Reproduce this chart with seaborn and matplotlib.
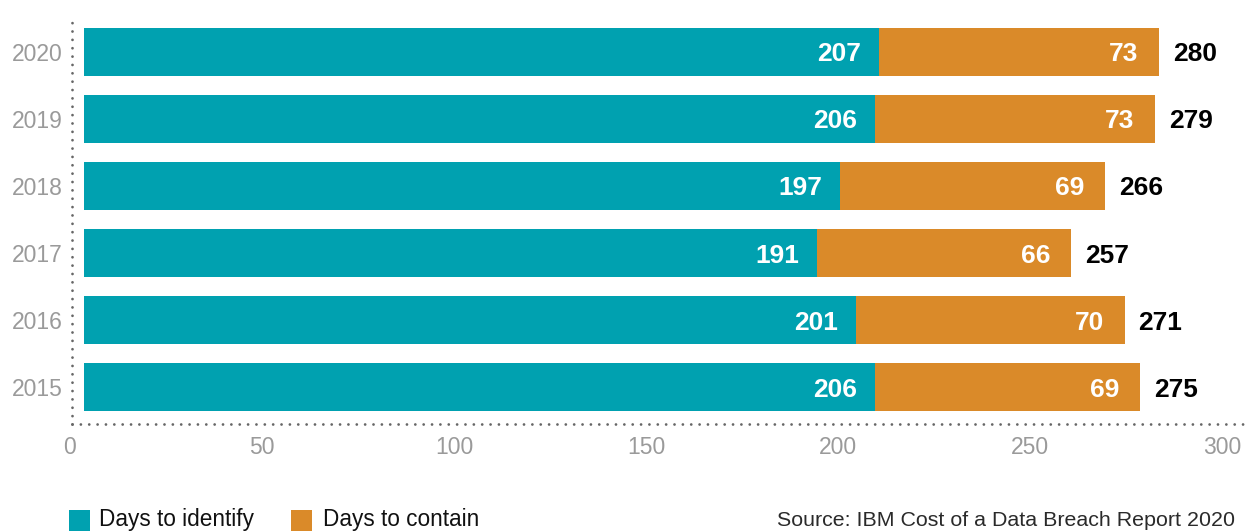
import matplotlib
matplotlib.use("Agg")
import matplotlib.pyplot as plt
import matplotlib.transforms as mtransforms
import seaborn as sns
import pandas as pd
from matplotlib.patches import Rectangle

years = ["2020", "2019", "2018", "2017", "2016", "2015"]
identify = [207, 206, 197, 191, 201, 206]
contain = [73, 73, 69, 66, 70, 69]
totals = [280, 279, 266, 257, 271, 275]
xticks = [0, 50, 100, 150, 200, 250, 300]
legend_labels = ["Days to identify", "Days to contain"]
source_text = "Source: IBM Cost of a Data Breach Report 2020"

TEAL = "#00A1B0"
ORANGE = "#DA8A29"

sns.set_theme(style="white")
plt.rcParams["font.family"] = ["Liberation Sans", "DejaVu Sans"]

W, H = 1248, 531
fig = plt.figure(figsize=(W / 100, H / 100), dpi=100)
ax = fig.add_axes([72 / W, 1 - 424 / H, (W - 72) / W, (424 - 15) / H])

df = pd.DataFrame({"year": years, "identify": identify, "contain": contain,
                   "total": totals})

sns.barplot(data=df, y="year", x="total", color=ORANGE, orient="h",
            width=0.716, order=years, ax=ax, saturation=1)
sns.barplot(data=df, y="year", x="identify", color=TEAL, orient="h",
            width=0.716, order=years, ax=ax, saturation=1)
for p in ax.patches:
    p.set_linewidth(0)

ax.set_xlim(-12 / 3.84, (W - 72 - 12) / 3.84)
ax.set_ylim(5.552, -0.552)
ax.set_xticks(xticks)
ax.set_xticklabels([str(t) for t in xticks])
ax.set_xlabel("")
ax.set_ylabel("")

ax.tick_params(axis="x", length=0, pad=9, labelsize=16.5, labelcolor="#9a9a9a")
ax.tick_params(axis="y", length=0, pad=7, labelsize=16.5, labelcolor="#9a9a9a")

# shift x tick labels slightly left, as in the reference
shift = mtransforms.ScaledTranslation(-14 / 100, 0, fig.dpi_scale_trans)
for lab in ax.get_xticklabels():
    lab.set_transform(lab.get_transform() + shift)

for s in ["top", "right"]:
    ax.spines[s].set_visible(False)
for s in ["left", "bottom"]:
    sp = ax.spines[s]
    sp.set_visible(True)
    sp.set_color("#666666")
    sp.set_linewidth(2.0)
    sp.set_capstyle("round")
    sp.set_linestyle((0, (0.01, 3.0)))

for i, (a, b, t) in enumerate(zip(identify, contain, totals)):
    ax.annotate(str(a), xy=(a, i), xytext=(-13, 0), textcoords="offset points",
                ha="right", va="center_baseline", color="white",
                fontsize=19, fontweight="bold")
    ax.annotate(str(b), xy=(a + b, i), xytext=(-15, 0), textcoords="offset points",
                ha="right", va="center_baseline", color="white",
                fontsize=19, fontweight="bold")
    ax.annotate(str(t), xy=(t, i), xytext=(10, 0), textcoords="offset points",
                ha="left", va="center_baseline", color="black",
                fontsize=19, fontweight="bold")

# legend
for xpx, col, lab, txx in [(69, TEAL, legend_labels[0], 99), (291, ORANGE, legend_labels[1], 323)]:
    fig.patches.append(Rectangle((xpx / W, 0), 21 / W, (531 - 510) / H,
                                 transform=fig.transFigure, color=col, lw=0))
    fig.text(txx / W, 5 / H, lab, ha="left", va="baseline", fontsize=16.3,
             color="#111111")

fig.text(1235 / W, 5 / H, source_text, ha="right", va="baseline",
         fontsize=15.4, color="#2a2a2a")

fig.savefig("out.png", dpi=100)
